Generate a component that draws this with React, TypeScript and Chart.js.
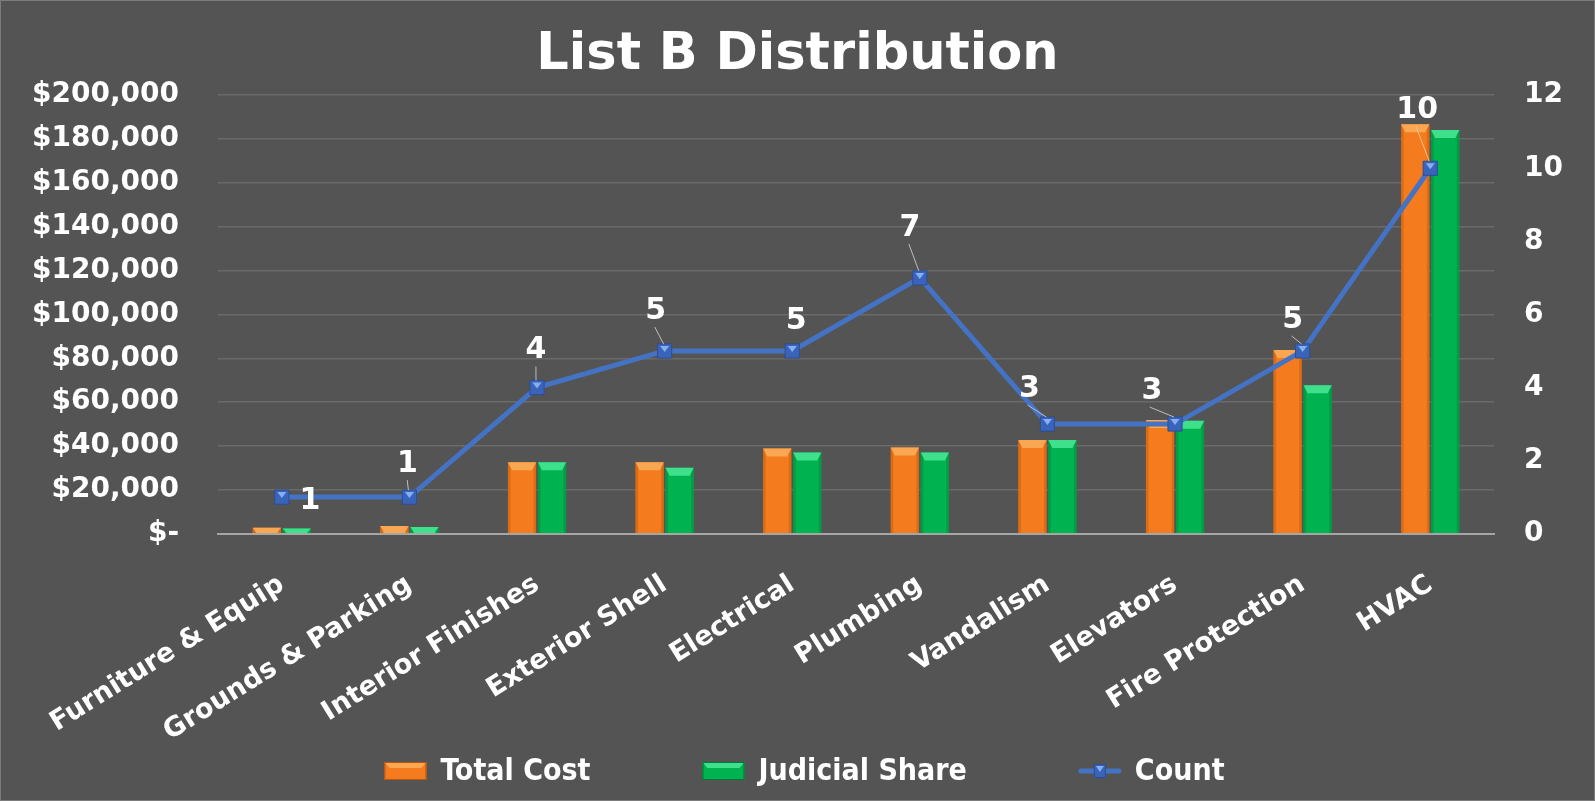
import React, { useEffect, useRef } from 'react';
import { Chart, registerables } from 'chart.js';

Chart.register(...registerables);

const categories = [
  'Furniture & Equip',
  'Grounds & Parking',
  'Interior Finishes',
  'Exterior Shell',
  'Electrical',
  'Plumbing',
  'Vandalism',
  'Elevators',
  'Fire Protection',
  'HVAC',
];
const totalCost = [2700, 3500, 32600, 32600, 38900, 39300, 42700, 51800, 83800, 186800];
const judicialShare = [2300, 3000, 32600, 30100, 37000, 37000, 42700, 51500, 67700, 184100];
const counts = [1, 1, 4, 5, 5, 7, 3, 3, 5, 10];

const seriesNames = ['Total Cost', 'Judicial Share', 'Count'];

const BG = '#545454';
const FONT = "'DejaVu Sans', sans-serif";
const FONT_COND = "'DejaVu Sans Condensed', 'DejaVu Sans', sans-serif";

// offsets of count labels relative to their point (layout only)
const labelOffsets: [number, number][] = [
  [28, 4], [-2, -33], [-1, -37], [-9, -40], [4, -30],
  [-10, -50], [-18, -35], [-23, -33], [-10, -31], [-13, -58],
];

const bevelPlugin = {
  id: 'bevel',
  afterDatasetDraw(chart: any, args: any) {
    const meta = args.meta;
    const ctx = chart.ctx;
    if (meta.type === 'bar') {
      const light = meta.index === 0 ? '#F9A752' : '#3FE08B';
      const dark = meta.index === 0 ? '#C85E0C' : '#008A3C';
      meta.data.forEach((el: any) => {
        const p = el.getProps(['x', 'y', 'base', 'width'], true);
        const l = p.x - p.width / 2;
        const r = p.x + p.width / 2;
        const t = Math.min(p.y, p.base);
        const b = Math.max(p.y, p.base);
        const h = b - t;
        if (h <= 0) return;
        ctx.save();
        const bev = Math.min(8, h);
        ctx.fillStyle = dark;
        ctx.globalAlpha = 0.55;
        ctx.fillRect(l, t, 2.5, h);
        ctx.fillRect(r - 2.5, t, 2.5, h);
        ctx.globalAlpha = 1;
        ctx.fillStyle = light;
        ctx.beginPath();
        ctx.moveTo(l, t);
        ctx.lineTo(r, t);
        ctx.lineTo(r - 4, t + bev);
        ctx.lineTo(l + 4, t + bev);
        ctx.closePath();
        ctx.fill();
        ctx.restore();
      });
    } else if (meta.type === 'line') {
      meta.data.forEach((el: any) => {
        const p = el.getProps(['x', 'y'], true);
        ctx.save();
        ctx.fillStyle = '#86AEF2';
        ctx.beginPath();
        ctx.moveTo(p.x - 4.5, p.y - 5);
        ctx.lineTo(p.x + 4.5, p.y - 5);
        ctx.lineTo(p.x, p.y + 1);
        ctx.closePath();
        ctx.fill();
        ctx.restore();
      });
    }
  },
};

const labelsAndLegendPlugin = {
  id: 'labelsAndLegend',
  beforeDraw(chart: any) {
    const ctx = chart.ctx;
    ctx.save();
    ctx.fillStyle = BG;
    ctx.fillRect(0, 0, chart.width, chart.height);
    ctx.strokeStyle = '#7c7c7c';
    ctx.lineWidth = 1;
    ctx.strokeRect(0.5, 0.5, chart.width - 1, chart.height - 1);
    ctx.restore();
  },
  afterDatasetsDraw(chart: any) {
    const ctx = chart.ctx;
    const lineMeta = chart.getDatasetMeta(2);
    ctx.save();
    ctx.font = `bold 30px ${FONT}`;
    ctx.textAlign = 'center';
    ctx.textBaseline = 'middle';
    lineMeta.data.forEach((el: any, i: number) => {
      const p = el.getProps(['x', 'y'], true);
      const [dx, dy] = labelOffsets[i] || [0, -32];
      const lx = p.x + dx;
      const ly = p.y + dy;
      if (dy <= -31) {
        ctx.strokeStyle = i === 9 ? '#F7C08A' : '#BFBFBF';
        ctx.lineWidth = 1;
        ctx.beginPath();
        ctx.moveTo(lx + dx * 0.1, ly + 16);
        ctx.lineTo(p.x - 1, p.y - 7);
        ctx.stroke();
      }
      ctx.fillStyle = '#FFFFFF';
      ctx.fillText(String(chart.data.datasets[2].data[i]), lx, ly);
    });
    ctx.restore();
  },
  afterDraw(chart: any) {
    const ctx = chart.ctx;
    ctx.save();
    ctx.font = `bold 30px ${FONT_COND}`;
    ctx.textBaseline = 'middle';
    ctx.textAlign = 'left';
    const boxW = 42;
    const gapText = 14;
    const gapItem = 112;
    const widths = seriesNames.map((n) => boxW + gapText + ctx.measureText(n).width);
    const total = widths.reduce((a, b) => a + b, 0) + gapItem * (widths.length - 1);
    let x = chart.width / 2 + 7 - total / 2;
    const cy = 771;
    seriesNames.forEach((name, i) => {
      if (i < 2) {
        const main = i === 0 ? '#F47B1E' : '#00B350';
        const light = i === 0 ? '#F9A752' : '#3FE08B';
        const dark = i === 0 ? '#B8560C' : '#007A35';
        ctx.fillStyle = main;
        ctx.fillRect(x, cy - 9, boxW, 18);
        ctx.fillStyle = light;
        ctx.beginPath();
        ctx.moveTo(x, cy - 9);
        ctx.lineTo(x + boxW, cy - 9);
        ctx.lineTo(x + boxW - 5, cy - 3);
        ctx.lineTo(x + 5, cy - 3);
        ctx.closePath();
        ctx.fill();
        ctx.strokeStyle = dark;
        ctx.lineWidth = 1;
        ctx.strokeRect(x + 0.5, cy - 8.5, boxW - 1, 17);
      } else {
        ctx.strokeStyle = '#4472C4';
        ctx.lineWidth = 5;
        ctx.lineCap = 'round';
        ctx.beginPath();
        ctx.moveTo(x + 2, cy);
        ctx.lineTo(x + boxW - 2, cy);
        ctx.stroke();
        ctx.fillStyle = '#3A64BA';
        ctx.fillRect(x + boxW / 2 - 6, cy - 7, 12, 14);
        ctx.strokeStyle = '#2B4E96';
        ctx.lineWidth = 1;
        ctx.strokeRect(x + boxW / 2 - 5.5, cy - 6.5, 11, 13);
        ctx.fillStyle = '#86AEF2';
        ctx.beginPath();
        ctx.moveTo(x + boxW / 2 - 4, cy - 5);
        ctx.lineTo(x + boxW / 2 + 4, cy - 5);
        ctx.lineTo(x + boxW / 2, cy + 1);
        ctx.closePath();
        ctx.fill();
      }
      ctx.fillStyle = '#FFFFFF';
      ctx.fillText(name, x + boxW + gapText, cy + 1);
      x += widths[i] + gapItem;
    });
    ctx.restore();
  },
};

const trimWidth = (s: any) => {
  s.width -= s.options.ticks.padding;
};

export default function App() {
  const ref = useRef<HTMLCanvasElement | null>(null);

  useEffect(() => {
    document.body.style.margin = '0';
    document.body.style.background = BG;
    const canvas = ref.current;
    if (!canvas) return;
    const chart = new Chart(canvas, {
      type: 'bar',
      data: {
        labels: categories,
        datasets: [
          {
            type: 'bar',
            label: seriesNames[0],
            data: totalCost,
            backgroundColor: '#F47B1E',
            yAxisID: 'y',
            order: 1,
            barPercentage: 0.94,
            categoryPercentage: 0.47,
          },
          {
            type: 'bar',
            label: seriesNames[1],
            data: judicialShare,
            backgroundColor: '#00B350',
            yAxisID: 'y',
            order: 2,
            barPercentage: 0.94,
            categoryPercentage: 0.47,
          },
          {
            type: 'line',
            label: seriesNames[2],
            data: counts,
            borderColor: '#4472C4',
            borderWidth: 5,
            pointStyle: 'rect',
            pointRadius: 10,
            pointBackgroundColor: '#3A64BA',
            pointBorderColor: '#2B4E96',
            pointBorderWidth: 1,
            yAxisID: 'y1',
            order: 0,
            tension: 0,
          },
        ],
      },
      options: {
        responsive: false,
        animation: false,
        layout: { padding: { left: 32, right: 32, top: 0, bottom: 18 } },
        plugins: {
          legend: { display: false },
          tooltip: { enabled: false },
          title: {
            display: true,
            text: 'List B Distribution',
            color: '#FFFFFF',
            font: { family: FONT, size: 51, weight: 'bold' },
            padding: { top: 25, bottom: 9 },
          },
        },
        scales: {
          x: {
            grid: { display: false, drawTicks: false },
            border: { display: true, color: '#A6A6A6', width: 2 },
            afterFit: (s: any) => {
              s.paddingLeft = 0;
              s.paddingRight = 0;
            },
            ticks: {
              color: '#FFFFFF',
              font: { family: FONT, size: 27, weight: 'bold' },
              minRotation: 32,
              maxRotation: 32,
              padding: 35,
              autoSkip: false,
            },
          },
          y: {
            position: 'left',
            min: 0,
            max: 200000,
            grid: { color: '#6A6A6A', lineWidth: 1.5, drawTicks: false },
            border: { display: false },
            afterFit: trimWidth,
            ticks: {
              stepSize: 20000,
              color: '#FFFFFF',
              padding: 39,
              font: { family: FONT, size: 28, weight: 'bold' },
              callback: (v: any) => (Number(v) === 0 ? '$-' : '$' + Number(v).toLocaleString('en-US')),
            },
          },
          y1: {
            position: 'right',
            min: 0,
            max: 12,
            grid: { drawOnChartArea: false, drawTicks: false },
            border: { display: false },
            afterFit: trimWidth,
            ticks: {
              stepSize: 2,
              color: '#FFFFFF',
              padding: 30,
              font: { family: FONT, size: 28, weight: 'bold' },
            },
          },
        },
      },
      plugins: [bevelPlugin, labelsAndLegendPlugin],
    });
    return () => chart.destroy();
  }, []);

  return (
    <div style={{ width: 1595, height: 801, background: BG }}>
      <canvas ref={ref} width={1595} height={801} style={{ display: 'block' }} />
    </div>
  );
}
